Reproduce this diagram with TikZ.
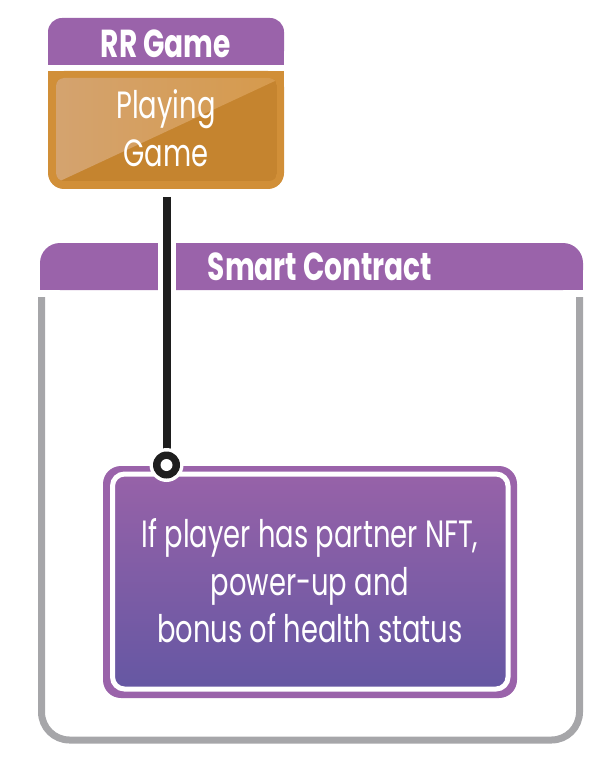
\documentclass[tikz,border=0pt]{standalone}
\usepackage{fontspec}
\setmainfont[FakeStretch=0.72]{Poppins}
\definecolor{purp}{HTML}{9A63AA}
\definecolor{purptop}{HTML}{9762A8}
\definecolor{purpbot}{HTML}{6557A3}
\definecolor{orng}{HTML}{D18F38}
\definecolor{orngdark}{HTML}{C5842F}
\definecolor{orngl1}{HTML}{D4A36F}
\definecolor{orngl2}{HTML}{D69A4C}
\definecolor{frame}{HTML}{A6A6A9}
\definecolor{ink}{HTML}{1E1E1E}
\tikzset{
  hdrtext/.style={text=white,font=\fontsize{39}{44}\selectfont\bfseries,inner sep=0pt},
  bodytext/.style={text=white,font=\fontsize{38}{47.5}\selectfont,align=center,inner sep=0pt},
  conn/.style={draw=ink,line width=8pt},
}
\begin{document}
\begin{tikzpicture}[x=1pt,y=-1pt]
\useasboundingbox (0,0) rectangle (613,759);
% RR Game header
\fill[purp,rounded corners=14pt] (48,18) rectangle (284,65);
\fill[purp] (48,42) rectangle (284,65);
\node[hdrtext] (rrt) at (166,44) {RR Game};
% orange box
\fill[orng,rounded corners=16pt] (48,71) rectangle (284,189);
\fill[orng] (48,71) rectangle (284,110);
\begin{scope}
  \clip[rounded corners=8pt] (56,78) rectangle (277,181);
  \fill[orngdark] (56,78) rectangle (277,181);
  \shade[left color=orngl1,right color=orngl2] (56,78) -- (277,78) -- (277,80) -- (60,181) -- (56,181) -- cycle;
\end{scope}
\node[bodytext] (pg) at (166,128) {Playing\\Game};
\coordinate (top) at (166.5,197);
% Smart contract header
\fill[purp,rounded corners=20pt] (40,243) rectangle (583,290);
\fill[purp] (40,265) rectangle (583,290);
\node[hdrtext] (sct) at (320,267) {Smart Contract};
% gray frame
\draw[frame,line width=7pt,rounded corners=28pt] (41.5,297) -- (41.5,740) -- (579.5,740) -- (579.5,297);
% inner box
\fill[purp,rounded corners=18pt] (103,466) rectangle (517,698);
\shade[top color=purptop,bottom color=purpbot,rounded corners=12pt] (112.5,474) rectangle (508,689);
\draw[white,line width=5pt,rounded corners=12pt] (112.5,474) rectangle (508,689);
\node[bodytext] (body) at (310,581) {If player has partner NFT,\\power-up and\\bonus of health status};
% connector
\coordinate (pinc) at (166.5,465);
\draw[white,line width=18pt] (166.5,240) -- (166.5,293);
\draw[conn] (top) -- (pinc);
\fill[white] (pinc) circle (17pt);
\fill[ink] (pinc) circle (13.5pt);
\node[circle,fill=white,minimum size=12pt,inner sep=0pt] (pin) at (pinc) {};
\end{tikzpicture}
\end{document}
